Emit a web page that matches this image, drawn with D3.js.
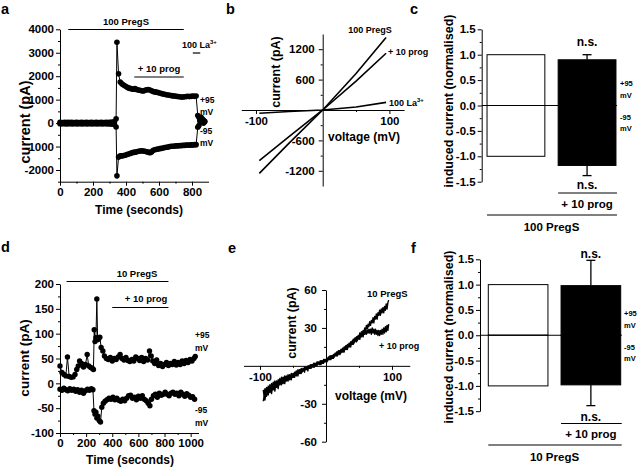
<!DOCTYPE html>
<html><head><meta charset="utf-8">
<script src="https://cdn.jsdelivr.net/npm/d3@7"></script>
<style>
body{margin:0;background:#fff;}
svg{font-family:"Liberation Sans",Arial,sans-serif;font-weight:bold;}
</style></head><body>
<svg id="chart" width="640" height="469"></svg>
<script>
// ---------- Panel a: time course, 100 PregS ----------
const aPos = [[0,30],[10,25],[20,20],[30,30],[40,25],[50,30],[60,20],[70,30],[80,25],[90,20],[100,30],[110,25],[120,20],[130,30],[140,25],[150,20],[160,30],[170,25],[180,20],[190,30],[200,25],[210,20],[220,30],[230,25],[240,20],[250,30],[260,25],[270,20],[280,30],[290,25],[300,30],[310,35],[320,40],[330,60],[340,180],[345,3450],[355,2100],[365,1750],[375,1680],[385,1620],[395,1580],[405,1540],[415,1500],[425,1480],[435,1460],[445,1440],[455,1470],[465,1430],[475,1410],[485,1400],[495,1380],[505,1370],[515,1400],[525,1420],[535,1430],[545,1410],[555,1380],[565,1350],[575,1330],[585,1320],[595,1300],[605,1280],[615,1260],[625,1240],[635,1230],[645,1210],[655,1200],[665,1190],[675,1170],[685,1160],[695,1150],[705,1140],[715,1130],[725,1120],[735,1110],[745,1110],[755,1120],[765,1130],[775,1140],[785,1130],[795,1140],[805,1150],[815,1140],[825,1150],[835,320],[842,250],[848,150],[855,60],[862,180],[870,120],[877,80]];
const aNeg = [[0,-30],[10,-25],[20,-20],[30,-30],[40,-25],[50,-30],[60,-20],[70,-30],[80,-25],[90,-20],[100,-30],[110,-25],[120,-20],[130,-30],[140,-25],[150,-20],[160,-30],[170,-25],[180,-20],[190,-30],[200,-25],[210,-20],[220,-30],[230,-25],[240,-20],[250,-30],[260,-25],[270,-20],[280,-30],[290,-25],[300,-30],[310,-35],[320,-40],[330,-60],[340,-170],[345,-2250],[355,-1450],[365,-1400],[375,-1400],[385,-1380],[395,-1370],[405,-1340],[415,-1320],[425,-1300],[435,-1270],[445,-1250],[455,-1240],[465,-1220],[475,-1200],[485,-1190],[495,-1180],[505,-1190],[515,-1200],[525,-1220],[535,-1240],[545,-1260],[555,-1230],[565,-1160],[575,-1140],[585,-1120],[595,-1110],[605,-1090],[615,-1080],[625,-1060],[635,-1040],[645,-1030],[655,-1020],[665,-1000],[675,-990],[685,-990],[695,-980],[705,-970],[715,-970],[725,-960],[735,-960],[745,-950],[755,-950],[765,-940],[775,-940],[785,-940],[795,-930],[805,-930],[815,-920],[825,-920],[835,-180],[842,-100],[848,80],[855,250],[862,150],[870,0],[877,60]];
const aTicksX = [0,200,400,600,800], aMinorX = [100,300,500,700];
const aTicksY = [-2000,-1000,0,1000,2000,3000,4000], aMinorY = [-2500,-1500,-500,500,1500,2500,3500];

// ---------- Panel b: I-V, 100 PregS ----------
const bV = [-95,-50,0,50,95];
const bPreg = [-1250,-650,0,720,1430];
const bProg = [-1000,-520,0,570,1120];
const bLa = [-65,-30,0,60,150];
const bTicksX = [-100,100], bMinorX = [-50,50];
const bTicksY = [-1200,-600,600,1200], bMinorY = [-900,-300,300,900];

// ---------- Panel c: normalised bars ----------
const cCats = ["100 PregS","+ 10 prog"];
const cUp = [1.0, 0.9], cDown = [-1.0, -1.18];
const cErrUp = [0, 0.1], cErrDown = [0, 0.2];
const barTicks = [-1.5,-1.0,-0.5,0,0.5,1.0,1.5], barMinor = [-1.25,-0.75,-0.25,0.25,0.75,1.25];

// ---------- Panel d: time course, 10 PregS ----------
const dPos = [[0,35],[15,22],[30,18],[45,15],[57,53],[70,14],[85,12],[100,13],[115,18],[128,28],[140,35],[150,45],[165,40],[180,33],[195,38],[208,58],[220,35],[235,32],[248,30],[256,28],[262,108],[268,84],[275,92],[282,170],[288,88],[296,90],[305,93],[315,72],[328,65],[340,55],[355,50],[370,48],[385,52],[400,45],[415,50],[430,48],[445,53],[460,58],[475,50],[490,47],[505,52],[520,46],[535,44],[550,48],[565,45],[580,53],[595,50],[610,46],[625,52],[640,44],[655,50],[670,47],[685,65],[698,55],[710,45],[725,40],[740,47],[755,36],[770,40],[785,34],[800,38],[815,42],[830,36],[845,40],[860,38],[875,44],[890,37],[905,42],[920,38],[935,45],[950,40],[965,46],[980,42],[995,48],[1010,45],[1025,50],[1035,54]];
const dNeg = [[0,-12],[15,-14],[30,-10],[45,-13],[60,-15],[75,-11],[90,-14],[105,-12],[120,-16],[135,-13],[150,-18],[165,-14],[180,-20],[195,-15],[210,-12],[225,-14],[240,-11],[252,-13],[260,-55],[268,-62],[275,-58],[282,-70],[290,-66],[300,-75],[310,-78],[320,-48],[332,-40],[345,-36],[360,-33],[375,-30],[390,-32],[405,-28],[420,-33],[435,-30],[450,-34],[465,-36],[480,-32],[495,-35],[510,-30],[525,-25],[540,-24],[555,-30],[570,-28],[585,-33],[600,-26],[615,-30],[630,-25],[645,-32],[660,-35],[675,-40],[688,-45],[700,-32],[715,-25],[730,-22],[745,-28],[760,-20],[775,-24],[790,-22],[805,-18],[820,-22],[835,-25],[850,-20],[865,-18],[880,-22],[895,-20],[910,-25],[925,-18],[940,-22],[955,-26],[970,-21],[985,-24],[1000,-28],[1015,-27],[1030,-32]];
const dTicksX = [0,200,400,600,800,1000], dMinorX = [100,300,500,700,900];
const dTicksY = [-100,-50,0,50,100,150,200], dMinorY = [-75,-25,25,75,125,175];

// ---------- Panel e: I-V ramps, 10 PregS ----------
const eV = [-95,-93.75,-92.5,-91.25,-90,-88.75,-87.5,-86.25,-85,-83.75,-82.5,-81.25,-80,-78.75,-77.5,-76.25,-75,-73.75,-72.5,-71.25,-70,-68.75,-67.5,-66.25,-65,-63.75,-62.5,-61.25,-60,-58.75,-57.5,-56.25,-55,-53.75,-52.5,-51.25,-50,-48.75,-47.5,-46.25,-45,-43.75,-42.5,-41.25,-40,-38.75,-37.5,-36.25,-35,-33.75,-32.5,-31.25,-30,-28.75,-27.5,-26.25,-25,-23.75,-22.5,-21.25,-20,-18.75,-17.5,-16.25,-15,-13.75,-12.5,-11.25,-10,-8.75,-7.5,-6.25,-5,-3.75,-2.5,-1.25,0,1.25,2.5,3.75,5,6.25,7.5,8.75,10,11.25,12.5,13.75,15,16.25,17.5,18.75,20,21.25,22.5,23.75,25,26.25,27.5,28.75,30,31.25,32.5,33.75,35,36.25,37.5,38.75,40,41.25,42.5,43.75,45,46.25,47.5,48.75,50,51.25,52.5,53.75,55,56.25,57.5,58.75,60,61.25,62.5,63.75,65,66.25,67.5,68.75,70,71.25,72.5,73.75,75,76.25,77.5,78.75,80,81.25,82.5,83.75,85,86.25,87.5,88.75,90,91.25,92.5,93.75,95];
const ePreg = [-28,-24,-27,-22, -24,-20,-23,-19, -21,-18,-22,-17, -19,-16,-20,-15, -17,-14,-18,-13, -15,-12,-15,-11, -14,-11,-14,-10, -12,-9,-12,-8, -11,-8,-11,-7, -9,-6,-9,-5, -8,-5,-8,-4, -6,-3,-6,-3, -4,-2,-5,-1, -3,-1,-4,0, -2,1,-2,1, -1,2,-1,2, 0,3,1,3, 1,4,1,4, 2,5,3,5, 3,6,4,7, 5,8,5,8, 6,9,7,10, 8,11,8,12, 9,12,10,13, 11,14,11,15, 13,16,13,17, 15,18,15,19, 17,21,18,22, 20,23,20,24, 22,26,23,27, 25,28,26,30, 28,32,29,33, 31,35,32,36, 34,38,34,39, 37,41,37,42, 40,44,40,45, 42,46,42,47, 44,49,45,50, 52];
const eProg = [-19,-24,-18,-22, -17,-21,-16,-20, -15,-19,-14,-18, -13,-17,-12,-16, -12,-15,-11,-14, -10,-14,-9,-12, -9,-12,-8,-11, -8,-11,-7,-10, -7,-10,-6,-8, -6,-9,-5,-7, -4,-7,-3,-6, -3,-6,-2,-5, -2,-4,-1,-3, -1,-3,0,-2, 0,-2,1,-1, 1,-1,2,1, 2,0,3,2, 3,1,4,3, 4,2,5,4, 5,3,6,5, 7,5,8,6, 8,6,9,8, 10,8,11,10, 12,9,13,11, 14,11,15,13, 16,13,17,15, 18,15,19,17, 20,17,21,19, 22,19,23,21, 24,21,25,23, 26,23,27,25, 28,25,28,26, 29,26,29,25, 30,26,29,25, 29,25,28,24, 28,24,28,25, 29,25,30,26, 31,27,32,28, 33,30,35,32, 37];
const eTicksX = [-100,100], eMinorX = [-50,50];
const eTicksY = [-60,-30,30,60], eMinorY = [-45,-15,15,45];

// ---------- Panel f: normalised bars ----------
const fCats = ["10 PregS","+ 10 prog"];
const fUp = [1.0, 0.98], fDown = [-1.0, -0.98];
const fErrUp = [0, 0.5], fErrDown = [0, 0.41];

// =====================================================
const FONT = '"Liberation Sans", Arial, sans-serif';
const svg = d3.select("#chart");

function txt(x, y, s, size, anchor) {
  return svg.append("text").attr("x", x).attr("y", y).attr("font-size", size)
    .attr("text-anchor", anchor || "start").attr("fill", "#000").text(s);
}
function vtxt(x, y, s, size) {
  return svg.append("text").attr("transform", `translate(${x},${y}) rotate(-90)`)
    .attr("font-size", size).attr("text-anchor", "middle").attr("fill", "#000").text(s);
}
function seg(x1, y1, x2, y2, w) {
  svg.append("line").attr("x1", x1).attr("y1", y1).attr("x2", x2).attr("y2", y2)
    .attr("stroke", "#000").attr("stroke-width", w || 1);
}
function makeAxis(gen, scale, major, minor, fmt, tx, ty, size, pad) {
  const gm = svg.append("g").attr("transform", `translate(${tx},${ty})`)
    .call(gen(scale).tickValues(minor).tickSize(size / 2).tickSizeOuter(0).tickFormat(""));
  gm.select(".domain").remove();
  gm.selectAll("line").attr("stroke", "#000");
  const g = svg.append("g").attr("transform", `translate(${tx},${ty})`)
    .call(gen(scale).tickValues(major).tickSize(size).tickSizeOuter(0).tickPadding(pad).tickFormat(fmt));
  g.attr("font-family", FONT).attr("font-size", 11.5).attr("font-weight", "bold");
  g.selectAll("line,path").attr("stroke", "#000");
  g.selectAll("text").attr("fill", "#000");
  return g;
}
const intFmt = d => String(d);
const decFmt = d => d.toFixed(1);

// ---------- Panel a ----------
const xA = d3.scaleLinear([0, 900], [60, 208.5]);
const yA = d3.scaleLinear([-2500, 4000], [181.7, 29.3]);
makeAxis(d3.axisLeft, yA, aTicksY, aMinorY, intFmt, 60, 0, 4, 2);
makeAxis(d3.axisBottom, xA, aTicksX, aMinorX, intFmt, 0, 181.7, 4, 2);
const lineA = d3.line().x(d => xA(d[0])).y(d => yA(d[1]));
[aPos, aNeg].forEach(s => {
  svg.append("path").attr("d", lineA(s)).attr("fill", "none").attr("stroke", "#000").attr("stroke-width", 1);
  svg.append("g").selectAll("circle").data(s).join("circle")
    .attr("cx", d => xA(d[0])).attr("cy", d => yA(d[1])).attr("r", 2.8).attr("fill", "#000");
});
seg(xA(50), 29.5, xA(750), 29.5, 1.2);
txt(126, 25, "100 PregS", 9.5, "middle");
seg(xA(450), 77, xA(750), 77, 1.2);
txt(159, 72, "+ 10 prog", 9.5, "middle");
seg(xA(805), 53, xA(850), 53, 1.2);
txt(182, 48, "100 La", 9, "start").append("tspan").attr("dy", -4).attr("font-size", 6).text("3+");
txt(200, 103, "+95", 8.5); txt(200, 115, "mV", 8.5);
txt(200, 134, "-95", 8.5); txt(200, 146, "mV", 8.5);
vtxt(30, 122, "current (pA)", 14.5);
txt(139, 214, "Time (seconds)", 12, "middle");
txt(1, 14, "a", 14.5);

// ---------- Panel b ----------
const xB = d3.scaleLinear([-122, 122], [241.3, 404.1]);
const yB = d3.scaleLinear([-1500, 1500], [186, 34]);
makeAxis(d3.axisLeft, yB, bTicksY, bMinorY, intFmt, xB(0), 0, 4, 4);
makeAxis(d3.axisBottom, xB, bTicksX, bMinorX, intFmt, 0, yB(0), 4, 3);
const lineB = s => d3.line().x((v, i) => xB(bV[i])).y((v) => yB(v))(s);
[bPreg, bProg, bLa].forEach(s => {
  svg.append("path").attr("d", lineB(s)).attr("fill", "none").attr("stroke", "#000").attr("stroke-width", 1.6);
});
txt(370, 32.5, "100 PregS", 9, "middle");
txt(388, 55, "+ 10 prog", 9);
txt(389, 105.5, "100 La", 9).append("tspan").attr("dy", -4).attr("font-size", 6).text("3+");
vtxt(280, 72, "current (pA)", 12.5);
txt(364, 141, "voltage (mV)", 12, "middle");
txt(226, 14, "b", 14.5);

// ---------- Bar panel helper ----------
function barPanel(cats, up, down, errUp, errDown, yScale, xRange, pi, po, axisX) {
  const xS = d3.scaleBand(cats, xRange).paddingInner(pi).paddingOuter(po);
  makeAxis(d3.axisLeft, yScale, barTicks, barMinor, decFmt, axisX, 0, 4, 2);
  const bw = xS.bandwidth();
  cats.forEach((c, i) => {
    const fill = i === 0 ? "#fff" : "#000";
    svg.append("rect").attr("x", xS(c)).attr("y", yScale(up[i]))
      .attr("width", bw).attr("height", yScale(0) - yScale(up[i]))
      .attr("fill", fill).attr("stroke", "#000").attr("stroke-width", 1);
    svg.append("rect").attr("x", xS(c)).attr("y", yScale(0))
      .attr("width", bw).attr("height", yScale(down[i]) - yScale(0))
      .attr("fill", fill).attr("stroke", "#000").attr("stroke-width", 1);
    const cx = xS(c) + bw / 2;
    if (errUp[i] > 0) {
      seg(cx, yScale(up[i]), cx, yScale(up[i] + errUp[i]), 1.3);
      seg(cx - 4.5, yScale(up[i] + errUp[i]), cx + 4.5, yScale(up[i] + errUp[i]), 1.3);
    }
    if (errDown[i] > 0) {
      seg(cx, yScale(down[i]), cx, yScale(down[i] - errDown[i]), 1.3);
      seg(cx - 4.5, yScale(down[i] - errDown[i]), cx + 4.5, yScale(down[i] - errDown[i]), 1.3);
    }
  });
  seg(axisX, yScale(0), xS(cats[1]) + bw + 1, yScale(0), 1);
  return xS;
}

// ---------- Panel c ----------
const yC = d3.scaleLinear([-1.5, 1.5], [181.7, 29.3]);
const xC = barPanel(cCats, cUp, cDown, cErrUp, cErrDown, yC, [481.7, 621.3], 0.187, 0.075, 481.7);
{
  const bw = xC.bandwidth();
  const c1 = xC(cCats[1]) + bw / 2;
  txt(c1, 46, "n.s.", 12, "middle");
  txt(c1, 188.5, "n.s.", 12, "middle");
  seg(xC(cCats[1]), 193, xC(cCats[1]) + bw + 1, 193, 1);
  txt(c1, 207.5, cCats[1], 11.5, "middle");
  seg(xC(cCats[0]), 215, xC(cCats[1]) + bw + 1, 215, 1);
  txt((xC(cCats[0]) + xC(cCats[1]) + bw) / 2, 231, cCats[0], 11.5, "middle");
  txt(620, 86, "+95", 7.5); txt(620, 98, "mV", 7.5);
  txt(620, 120, "-95", 7.5); txt(620, 131, "mV", 7.5);
}
vtxt(453, 101, "induced current (normalised)", 12.5);
txt(410, 14, "c", 14.5);

// ---------- Panel d ----------
const xD = d3.scaleLinear([0, 1060], [60, 198.5]);
const yD = d3.scaleLinear([-100, 200], [433, 284]);
makeAxis(d3.axisLeft, yD, dTicksY, dMinorY, intFmt, 60, 0, 4, 2);
makeAxis(d3.axisBottom, xD, dTicksX, dMinorX, intFmt, 0, 433, 4, 2);
const lineD = d3.line().x(d => xD(d[0])).y(d => yD(d[1]));
[dPos, dNeg].forEach(s => {
  svg.append("path").attr("d", lineD(s)).attr("fill", "none").attr("stroke", "#000").attr("stroke-width", 1);
  svg.append("g").selectAll("circle").data(s).join("circle")
    .attr("cx", d => xD(d[0])).attr("cy", d => yD(d[1])).attr("r", 2.7).attr("fill", "#000");
});
seg(xD(50), 281.5, xD(830), 281.5, 1.2);
txt(137, 277, "10 PregS", 9.5, "middle");
seg(xD(400), 307.5, xD(830), 307.5, 1.2);
txt(146, 302, "+ 10 prog", 9.5, "middle");
txt(195, 338, "+95", 8.5); txt(195, 351, "mV", 8.5);
txt(195, 413, "-95", 8.5); txt(195, 426, "mV", 8.5);
vtxt(29, 358, "current (pA)", 13.5);
txt(130, 464, "Time (seconds)", 12, "middle");
txt(1, 252, "d", 14.5);

// ---------- Panel e ----------
const xE = d3.scaleLinear([-125, 127], [243.5, 409.8]);
const yE = d3.scaleLinear([-60, 60], [441.7, 290]);
makeAxis(d3.axisLeft, yE, eTicksY, eMinorY, intFmt, xE(0), 0, 4, 5);
makeAxis(d3.axisBottom, xE, eTicksX, eMinorX, intFmt, 0, yE(0), 4, 3);
const lineE = s => d3.line().x((v, i) => xE(eV[i])).y(v => yE(v))(s);
[ePreg, eProg].forEach(s => {
  svg.append("path").attr("d", lineE(s)).attr("fill", "none").attr("stroke", "#000")
    .attr("stroke-width", 1.4).attr("stroke-linejoin", "round");
});
txt(367, 296.5, "10 PregS", 9.5);
txt(379, 349, "+ 10 prog", 9);
vtxt(296, 323, "current (pA)", 12.5);
txt(371, 400, "voltage (mV)", 12, "middle");
txt(228, 253, "e", 14.5);

// ---------- Panel f ----------
const yF = d3.scaleLinear([-1.5, 1.5], [411.2, 259.3]);
const xF = barPanel(fCats, fUp, fDown, fErrUp, fErrDown, yF, [480, 629], 0.18, 0.114, 480);
{
  const bw = xF.bandwidth();
  const c1 = xF(fCats[1]) + bw / 2;
  txt(c1, 257.5, "n.s.", 12, "middle");
  txt(c1, 421, "n.s.", 12, "middle");
  seg(xF(fCats[1]), 423.5, xF(fCats[1]) + bw + 1, 423.5, 1);
  txt(c1, 438, fCats[1], 11.5, "middle");
  seg(xF(fCats[0]), 445, xF(fCats[1]) + bw + 1, 445, 1);
  txt((xF(fCats[0]) + xF(fCats[1]) + bw) / 2, 461, fCats[0], 11.5, "middle");
  txt(624, 316, "+95", 7.5); txt(624, 328, "mV", 7.5);
  txt(624, 350, "-95", 7.5); txt(624, 361, "mV", 7.5);
}
vtxt(453, 337, "induced current (normalised)", 12.5);
txt(411, 253, "f", 14.5);
</script>
</body></html>
